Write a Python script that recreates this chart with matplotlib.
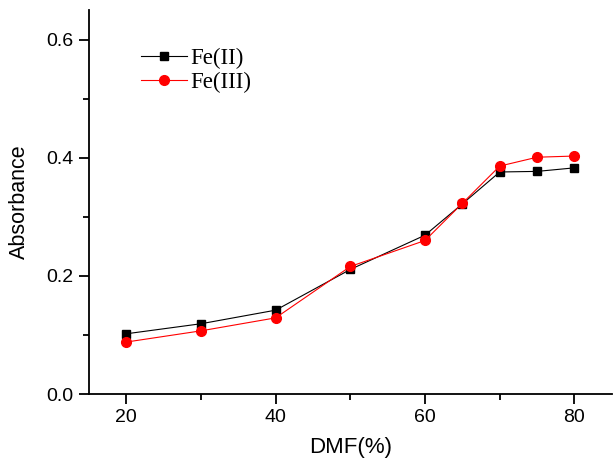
import matplotlib
matplotlib.use('Agg')
from matplotlib import pyplot as plt
from matplotlib.ticker import MultipleLocator

dmf = [20, 30, 40, 50, 60, 65, 70, 75, 80]
fe2 = [0.102, 0.119, 0.142, 0.211, 0.269, 0.322, 0.376, 0.377, 0.383]
fe3 = [0.088, 0.107, 0.129, 0.216, 0.260, 0.323, 0.386, 0.401, 0.403]

plt.rcParams['font.family'] = ['Liberation Sans', 'DejaVu Sans']

fig = plt.figure(figsize=(6.15, 4.63), dpi=100)
ax = fig.add_axes([0.1447, 0.149, 0.850, 0.829])

ax.plot(dmf, fe2, color='black', linewidth=0.8, marker='s', markersize=6,
        label='Fe(II)')
ax.plot(dmf, fe3, color='red', linewidth=0.8, marker='o', markersize=7,
        label='Fe(III)')

ax.set_xlim(15, 85)
ax.set_ylim(0, 0.65)
ax.xaxis.set_major_locator(MultipleLocator(20))
ax.xaxis.set_minor_locator(MultipleLocator(10))
ax.yaxis.set_major_locator(MultipleLocator(0.2))
ax.yaxis.set_minor_locator(MultipleLocator(0.1))
ax.yaxis.set_major_formatter(plt.FuncFormatter(lambda v, p: '%.1f' % v))

for s in ['top', 'right']:
    ax.spines[s].set_visible(False)
for s in ['left', 'bottom']:
    ax.spines[s].set_linewidth(1.3)

ax.tick_params(which='major', direction='out', length=7, width=1.3,
               labelsize=14, pad=4)
ax.tick_params(which='minor', direction='out', length=4, width=1.3)

ax.set_xlabel('DMF(%)', fontsize=16, labelpad=8)
ax.set_ylabel('Absorbance', fontsize=15.5, labelpad=12)

ax.legend(loc='upper left', bbox_to_anchor=(0.06, 0.955), frameon=False,
          prop={'family': 'Liberation Serif', 'size': 16.5},
          handlelength=2.0, handletextpad=0.15, labelspacing=0.1)

fig.savefig('out.png', dpi=100)
